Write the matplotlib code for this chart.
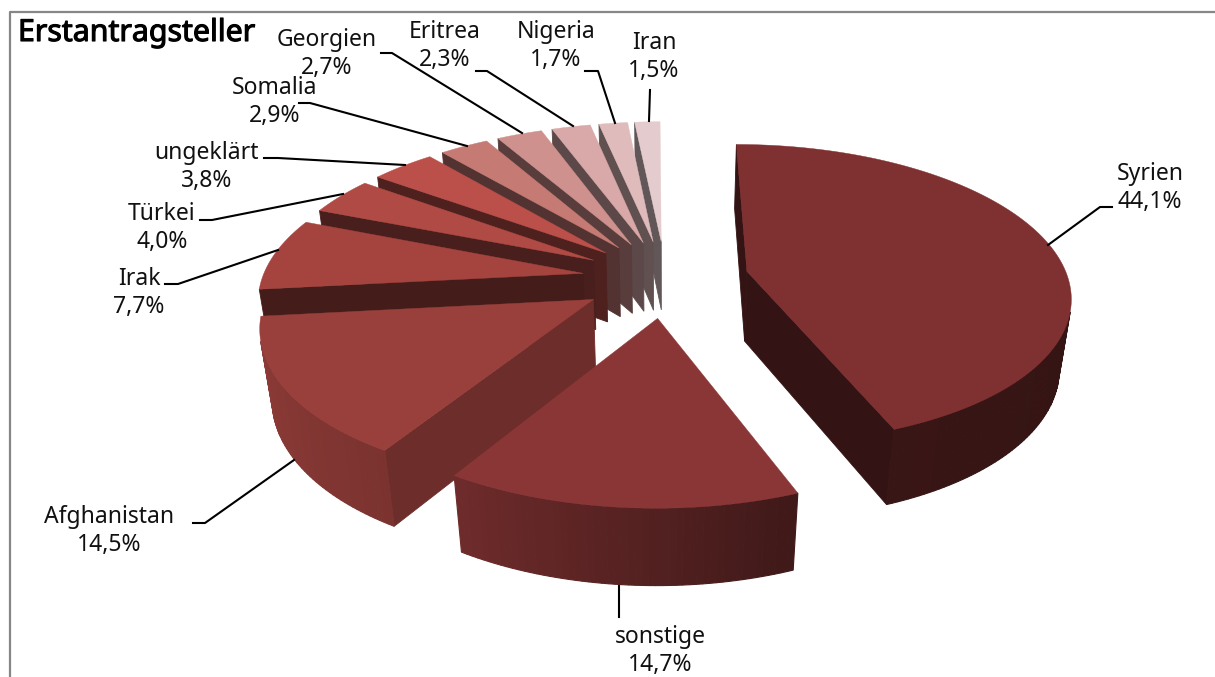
import numpy as np
import matplotlib
matplotlib.use('Agg')
import matplotlib.pyplot as plt
from matplotlib.colors import to_rgb
import matplotlib.patheffects as pe

plt.rcParams['font.family'] = ['Noto Sans', 'DejaVu Sans']

# Daten
laender = ['Syrien', 'sonstige', 'Afghanistan', 'Irak', 'Türkei', 'ungeklärt',
           'Somalia', 'Georgien', 'Eritrea', 'Nigeria', 'Iran']
anteile = [44.1, 14.7, 14.5, 7.7, 4.0, 3.8, 2.9, 2.7, 2.3, 1.7, 1.5]
farben = ['#7f3030', '#8b3636', '#9a403c', '#a5433f', '#b04a45', '#bb4f49',
          '#c67a74', '#cf918d', '#d9a8a8', '#e0bbbc', '#e4cbcd']

# Beschriftung: Textmitte, Start der Linie, Knick, Ende
text_pos = [(1150, 188), (660, 651), (109, 531), (139, 293), (162, 228), (207, 167),
            (275, 102), (327, 54), (445, 46), (556, 46), (654, 57)]
linie_start = [(1112, 207), (619, 617), (193, 523), (165, 284), (200, 220), (264, 158),
               (299, 103), (381, 53), (476, 71), (585, 71), (650, 90)]
knick = [(1100, 207), None, (205, 523), (178, 284), (212, 220), (278, 158),
         (310, 103), (392, 53), (487, 71), (598, 71), None]
linie_ende = [(1048, 245), (619, 586), (294, 460), (278, 250), (343, 194), (405, 165),
              (467, 146), (522, 133), (573, 126), (615, 123), (649, 121)]

# Kamera
ox, oy = 665.5, 278.5
A, B, P = 321, 148, 0.15
C, Q = 72, 0.03
EXPLODE = 0.26


def proj(x, y, z=0.0):
    # z = 0 Oberseite, z = 1 Unterseite
    w = 1 + P * y + Q * z
    return ox + A * x / w, oy - (B * y - C * z) / w


def mix(col, f):
    return tuple(c * f for c in to_rgb(col))


def flaeche(pts):
    # negativ = Flaeche zeigt zum Betrachter (y-Achse nach unten)
    p = np.array(pts)
    x, y = p[:, 0], p[:, 1]
    return 0.5 * np.sum(x * np.roll(y, -1) - np.roll(x, -1) * y)


fig = plt.figure(figsize=(12.15, 6.77), dpi=100)
ax = fig.add_axes([0, 0, 1, 1])
ax.set_xlim(0, 1215)
ax.set_ylim(677, 0)
ax.axis('off')

# Rahmen
ax.plot([10, 10, 1215], [677, 12, 12], color='#868686', lw=1.6, zorder=1)

grad = np.cumsum([0] + anteile) * 3.6
mitte = (grad[:-1] + grad[1:]) / 2
reihe = np.argsort(-np.cos(np.radians(mitte)))

for z, i in enumerate(reihe):
    a, b = grad[i], grad[i + 1]
    m = np.radians(mitte[i])
    cx, cy = EXPLODE * np.sin(m), EXPLODE * np.cos(m)
    t = np.radians(np.linspace(a, b, max(int(b - a), 6) + 1))
    xs = cx + np.sin(t)
    ys = cy + np.cos(t)
    col = farben[i]
    base = 10 + z * 2
    # Schnittflaechen, nur die sichtbaren
    fa = np.interp(a, [0, 205, 212, 264, 360], [.4, .4, .72, .41, .43])
    ea, eb = (cx + np.sin(t[0]), cy + np.cos(t[0])), (cx + np.sin(t[-1]), cy + np.cos(t[-1]))
    start = [proj(cx, cy), proj(*ea), proj(*ea, 1), proj(cx, cy, 1)]
    ende = [proj(cx, cy, 1), proj(*eb, 1), proj(*eb), proj(cx, cy)]
    for pts, f in ((start, fa), (ende, .4)):
        if flaeche(pts) < 0:
            ax.fill(*zip(*pts), color=mix(col, f), lw=0.6, zorder=base)
    # Mantel
    for k in range(len(t) - 1):
        w = np.degrees((t[k] + t[k + 1]) / 2)
        f = np.interp(w, [90, 158, 212, 264, 360], [.4, .45, .8, .93, .93])
        pts = [proj(xs[k], ys[k]), proj(xs[k + 1], ys[k + 1]),
               proj(xs[k + 1], ys[k + 1], 1), proj(xs[k], ys[k], 1)]
        if flaeche(pts) < 0:
            ax.fill(*zip(*pts), color=mix(col, f), lw=0.8, zorder=base)
    # Oberseite
    oben = [proj(cx, cy)] + [proj(x, y) for x, y in zip(xs, ys)]
    ax.fill(*zip(*oben), color=col, lw=0.3, zorder=base + 1)

# Beschriftungen
for i, name in enumerate(laender):
    punkte = [linie_start[i]] + ([knick[i]] if knick[i] else []) + [linie_ende[i]]
    ax.plot(*zip(*punkte), color='black', lw=1.5, zorder=50)
    tx = f'{name}\n{anteile[i]:.1f}%'.replace('.', ',')
    ax.text(*text_pos[i], tx, ha='center', va='center', fontsize=16.5,
            color='#111111', linespacing=1.25, zorder=60)

ax.text(18, 33, 'Erstantragsteller', fontsize=21.8, va='center', ha='left', color='black',
        zorder=60, path_effects=[pe.withStroke(linewidth=0.8, foreground='black')])

fig.savefig('out.png', dpi=100)
